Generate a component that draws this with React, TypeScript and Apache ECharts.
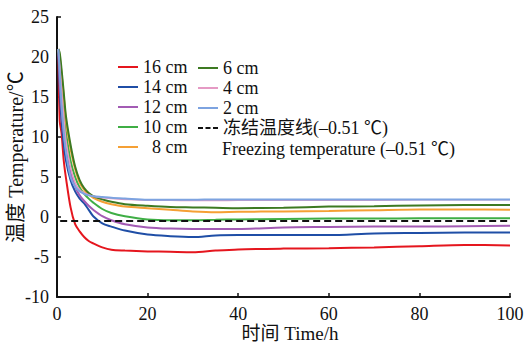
import React, { useEffect, useRef } from "react";
import * as echarts from "echarts";

const timeH = [0.3, 0.6, 1, 1.5, 2, 3, 4, 5, 6, 7, 8, 10, 12, 15, 20, 25, 30, 35, 40, 50, 60, 70, 80, 90, 100];

const cm16 = [21, 12, 10.5, 7, 4.8, 1.2, -0.9, -1.8, -2.5, -3, -3.3, -3.8, -4.1, -4.2, -4.3, -4.35, -4.4, -4.2, -4.05, -3.95, -3.9, -3.8, -3.65, -3.5, -3.55];
const cm14 = [21, 16, 12, 9, 7, 4.6, 3.2, 2.3, 1.7, 0.9, 0.1, -0.8, -1.2, -1.7, -2.2, -2.4, -2.5, -2.3, -2.25, -2.25, -2.25, -2.05, -2.0, -1.95, -1.95];
const cm12 = [21, 17, 13.5, 10.5, 8.3, 5.5, 3.8, 2.7, 2.0, 1.4, 0.9, 0.1, -0.4, -0.9, -1.3, -1.45, -1.5, -1.5, -1.5, -1.3, -1.25, -1.2, -1.2, -1.15, -1.1];
const cm10 = [21, 19, 16, 13, 10.5, 7, 5, 3.7, 2.9, 2.3, 1.8, 1.0, 0.5, 0.1, -0.3, -0.4, -0.4, -0.35, -0.3, -0.25, -0.2, -0.2, -0.15, -0.15, -0.15];
const cm8 = [21, 20, 18, 15, 12, 8.5, 6, 4.3, 3.4, 2.8, 2.4, 1.9, 1.6, 1.3, 1.1, 0.9, 0.7, 0.6, 0.65, 0.7, 0.75, 0.85, 0.95, 0.95, 0.9];
const cm6 = [21, 20.5, 18.5, 15.5, 12.5, 9, 6.3, 4.6, 3.6, 3.0, 2.6, 2.2, 1.9, 1.6, 1.4, 1.25, 1.2, 1.15, 1.1, 1.15, 1.3, 1.35, 1.45, 1.5, 1.5];
const cm4 = [21, 19, 16, 12.5, 9.5, 6.2, 4.3, 3.4, 3.0, 2.8, 2.6, 2.4, 2.3, 2.2, 2.1, 2.1, 2.05, 2.05, 2.1, 2.1, 2.1, 2.1, 2.15, 2.15, 2.15];
const cm2 = [21, 18, 14, 10.5, 8, 5, 3.8, 3.2, 2.9, 2.7, 2.6, 2.5, 2.4, 2.3, 2.15, 2.15, 2.15, 2.2, 2.2, 2.2, 2.2, 2.2, 2.2, 2.2, 2.2];

const freezeT = -0.51;
const freezeRange = [0.7, 100];

const names1 = ["16 cm", "14 cm", "12 cm", "10 cm", "\u20028 cm"];
const names2 = ["6 cm", "4 cm", "2 cm", "冻结温度线(–0.51 ℃)"];
const freezeEn = "Freezing temperature (–0.51 ℃)";

const xTicks = { min: 0, max: 100, interval: 20 };
const yTicks = { min: -10, max: 25, interval: 5 };

const FONT = "'Liberation Serif', 'Times New Roman', 'Noto Sans CJK SC', serif";

const seriesDefs = [
  { name: names1[0], data: cm16, color: "#e5161e", width: 2 },
  { name: names1[1], data: cm14, color: "#1f4ea6", width: 2 },
  { name: names1[2], data: cm12, color: "#a35bb4", width: 2 },
  { name: names1[3], data: cm10, color: "#3fae45", width: 2 },
  { name: names1[4], data: cm8, color: "#f5a035", width: 2 },
  { name: names2[0], data: cm6, color: "#3d7a22", width: 2 },
  { name: names2[1], data: cm4, color: "#e59ac4", width: 1.5 },
  { name: names2[2], data: cm2, color: "#7da3e0", width: 2 },
];

const DASH_ICON = "path://M0,0h5v2h-5z M7.5,0h5v2h-5z M15,0h5v2h-5z";

export default function App() {
  const ref = useRef<HTMLDivElement>(null);
  useEffect(() => {
    if (!ref.current) return;
    const chart = echarts.init(ref.current, null, { renderer: "svg" });
    const lineSeries: any[] = seriesDefs.map((s) => ({
      name: s.name,
      type: "line",
      data: timeH.map((t, i) => [t, s.data[i]]),
      showSymbol: false,
      symbol: "none",
      smooth: 0.3,
      lineStyle: { color: s.color, width: s.width },
      itemStyle: { color: s.color },
      z: 3,
    }));
    lineSeries.push({
      name: names2[3],
      type: "line",
      data: freezeRange.map((t) => [t, freezeT]),
      showSymbol: false,
      symbol: "none",
      lineStyle: { color: "#111", width: 2, type: [7, 4] },
      itemStyle: { color: "#111" },
      z: 4,
    });
    const legendCommon = {
      orient: "vertical",
      itemWidth: 20,
      itemHeight: 2,
      itemGap: 2,
      selectedMode: false,
      padding: 0,
      textStyle: { fontFamily: FONT, fontSize: 18, color: "#111" },
    };
    const item = (n: string) => ({ name: n, icon: n === names2[3] ? DASH_ICON : "rect" });
    chart.setOption({
      animation: false,
      backgroundColor: "#fff",
      grid: { left: 57, right: 17, top: 17, bottom: 47, outerBoundsMode: "none", containLabel: false },
      legend: [
        { ...legendCommon, left: 118, top: 58, data: names1.map(item) },
        { ...legendCommon, left: 198, top: 59, data: names2.map(item) },
      ],
      graphic: [
        {
          type: "text",
          left: 222,
          top: 140,
          style: { text: freezeEn, font: `18px ${FONT}`, fill: "#111" },
        },
      ],
      xAxis: {
        type: "value",
        ...xTicks,
        name: "时间 Time/h",
        nameLocation: "middle",
        nameGap: 27,
        nameMoveOverlap: false,
        nameTextStyle: { fontFamily: FONT, fontSize: 19, color: "#111", padding: [0, 0, 0, 13] },
        axisLine: { onZero: false, lineStyle: { color: "#111", width: 2 } },
        axisTick: { inside: true, length: 4, lineStyle: { color: "#111", width: 1.5 } },
        axisLabel: { fontFamily: FONT, fontSize: 18, color: "#111", margin: 8 },
        splitLine: { show: false },
      },
      yAxis: {
        type: "value",
        ...yTicks,
        name: "温度 Temperature/℃",
        nameLocation: "middle",
        nameGap: 31,
        nameMoveOverlap: false,
        nameTextStyle: { fontFamily: FONT, fontSize: 20, color: "#111" },
        axisLine: { show: true, onZero: false, lineStyle: { color: "#111", width: 2 } },
        axisTick: { show: true, inside: true, length: 4, lineStyle: { color: "#111", width: 1.5 } },
        axisLabel: { fontFamily: FONT, fontSize: 18, color: "#111", margin: 8 },
        splitLine: { show: false },
      },
      series: lineSeries,
    });
    return () => chart.dispose();
  }, []);
  return <div ref={ref} style={{ width: 527, height: 344, position: "absolute", left: 0, top: 0 }} />;
}
